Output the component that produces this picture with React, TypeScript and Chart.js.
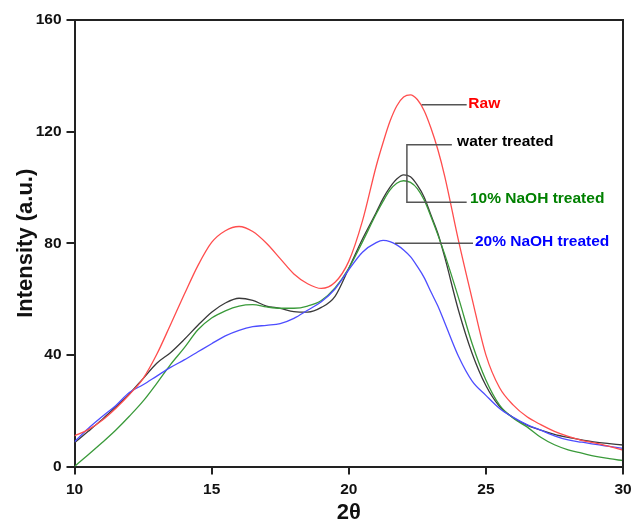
import React, { useEffect, useRef } from "react";
import { Chart, registerables } from "chart.js";

Chart.register(...registerables);

const angle = [10, 10.5, 11, 11.5, 12, 12.5, 13, 13.5, 14, 14.5, 15, 15.5, 16, 16.5, 17, 17.5, 18, 18.5, 19, 19.5, 20, 20.5, 21, 21.25, 21.5, 21.75, 22, 22.25, 22.5, 22.75, 23, 23.25, 23.5, 24, 24.5, 25, 25.5, 26, 26.5, 27, 27.5, 28, 28.5, 29, 29.5, 30];

const raw = [11, 13.2, 16.5, 20.8, 25.8, 31.5, 40.2, 50.8, 61.6, 72, 80.3, 84.5, 86, 84.2, 80, 74.5, 69, 65.5, 63.8, 66, 73.5, 88, 107.6, 116, 123.6, 129.2, 132.4, 133.2, 131.5, 127.5, 121.2, 113.5, 104, 81, 60, 40, 28.2, 22, 17.8, 15, 12.6, 10.8, 9.4, 8.4, 7.2, 5.9];

const water = [8.5, 12.6, 16.8, 21.3, 26, 31.5, 37, 40.8, 45.5, 50.6, 55.3, 58.6, 60.3, 59.5, 57.5, 56.7, 55.5, 55.3, 57, 61, 71, 81.5, 91, 96, 100, 103, 104.5, 103.8, 100.8, 96.5, 90, 83.5, 75, 56, 40.5, 29, 21.5, 17.5, 14.8, 13, 11.5, 10.4, 9.5, 8.7, 8.2, 7.7];

const naoh10 = [0, 4.2, 8.5, 13, 18, 23.4, 29.8, 36.5, 42.5, 49, 53.2, 55.8, 57.5, 58, 57.2, 56.7, 56.7, 57.5, 59.5, 64, 71, 80.5, 90.5, 95, 99, 101.5, 102.4, 101.8, 99.6, 95.5, 89.5, 83, 76, 60.5, 44, 31, 22, 17.3, 14.2, 10.5, 7.8, 6, 4.8, 3.6, 2.8, 2.1];

const naoh20 = [8.9, 13.6, 17.8, 21.8, 26.5, 29.3, 32.4, 35.5, 38.2, 41.1, 44, 46.8, 48.8, 50.1, 50.6, 51.2, 53.1, 56, 59, 63.6, 70.5, 76.8, 80.2, 81, 80.6, 79.4, 77.6, 75.2, 71.7, 67.7, 62.5, 57.5, 51.5, 39.5, 30.6, 25.5, 20.8, 17.6, 15, 13, 11, 9.5, 8.7, 7.9, 7.2, 6.5];

const xTicks = [10, 15, 20, 25, 30];
const yTicks = [0, 40, 80, 120, 160];

const seriesNames = ["Raw", "water treated", "10% NaOH treated", "20% NaOH treated"];

const FONT = "'Liberation Sans', Arial, sans-serif";

const toPoints = (ys: number[]) => angle.map((x, i) => ({ x, y: ys[i] }));

const annotationPlugin = {
  id: "labels",
  afterDraw(chart: any) {
    const { ctx, chartArea, scales } = chart;
    const xs = scales.x;
    const ys = scales.y;
    const X = (v: number) => xs.getPixelForValue(v);
    const Y = (v: number) => ys.getPixelForValue(v);
    ctx.save();
    // frame top and right
    ctx.strokeStyle = "#222";
    ctx.lineWidth = 2;
    ctx.beginPath();
    ctx.moveTo(chartArea.left, chartArea.top);
    ctx.lineTo(chartArea.right, chartArea.top);
    ctx.lineTo(chartArea.right, chartArea.bottom);
    ctx.stroke();

    ctx.strokeStyle = "#555";
    ctx.lineWidth = 1.5;
    const seg = (pts: number[][]) => {
      ctx.beginPath();
      pts.forEach((p, i) => {
        if (i === 0) ctx.moveTo(X(p[0]), Y(p[1]));
        else ctx.lineTo(X(p[0]), Y(p[1]));
      });
      ctx.stroke();
    };
    seg([[22.66, 129.6], [24.3, 129.6]]);
    seg([[23.76, 115.3], [22.12, 115.3], [22.12, 94.7], [24.3, 94.7]]);
    seg([[21.69, 80.0], [24.53, 80.0]]);

    ctx.font = `bold 15.5px ${FONT}`;
    ctx.textAlign = "left";
    ctx.textBaseline = "middle";
    const txt = (s: string, x: number, y: number, c: string) => {
      ctx.fillStyle = c;
      ctx.fillText(s, X(x), Y(y));
    };
    txt(seriesNames[0], 24.36, 130.0, "#ff0000");
    txt(seriesNames[1], 23.95, 116.5, "#000000");
    txt(seriesNames[2], 24.42, 95.8, "#008000");
    txt(seriesNames[3], 24.6, 80.4, "#0000ff");
    ctx.restore();
  },
};

export default function App() {
  const ref = useRef<HTMLCanvasElement>(null);
  useEffect(() => {
    if (!ref.current) return;
    const mk = (label: string, data: number[], color: string) => ({
      label,
      data: toPoints(data),
      borderColor: color,
      backgroundColor: color,
      borderWidth: 1.3,
      pointRadius: 0,
      cubicInterpolationMode: "monotone" as const,
      fill: false,
    });
    const chart = new Chart(ref.current, {
      type: "line",
      data: {
        datasets: [
          mk(seriesNames[0], raw, "#ff4d4d"),
          mk(seriesNames[3], naoh20, "#4d4dff"),
          mk(seriesNames[2], naoh10, "#3a9a3a"),
          mk(seriesNames[1], water, "#3a3a3a"),
        ],
      },
      options: {
        animation: false,
        responsive: false,
        maintainAspectRatio: false,
        layout: { padding: { top: 20, right: 17, left: 0, bottom: 0 } },
        plugins: { legend: { display: false }, tooltip: { enabled: false } },
        scales: {
          x: {
            type: "linear",
            min: 10,
            max: 30,
            afterBuildTicks: (s: any) => {
              s.ticks = xTicks.map((v) => ({ value: v }));
            },
            afterFit: (s: any) => {
              s.height = 57.5;
            },
            grid: { display: true, drawOnChartArea: false, drawTicks: true, tickLength: 8, color: "#222", lineWidth: 2 },
            border: { display: true, color: "#222", width: 2 },
            ticks: { color: "#111", padding: 6, maxRotation: 0, font: { family: FONT, size: 15.5, weight: "bold" } },
            title: { display: true, text: "2θ", color: "#111", padding: { top: 0, bottom: 0 }, font: { family: FONT, size: 22, weight: "bold", lineHeight: 1.05 } },
          },
          y: {
            type: "linear",
            min: 0,
            max: 160,
            afterBuildTicks: (s: any) => {
              s.ticks = yTicks.map((v) => ({ value: v }));
            },
            afterFit: (s: any) => {
              s.width = 74.5;
            },
            grid: { display: true, drawOnChartArea: false, drawTicks: true, tickLength: 8, color: "#222", lineWidth: 2 },
            border: { display: true, color: "#222", width: 2 },
            ticks: { color: "#111", padding: 5, font: { family: FONT, size: 15.5, weight: "bold" } },
            title: { display: true, text: "Intensity (a.u.)", color: "#111", padding: { top: 13, bottom: 0 }, font: { family: FONT, size: 22, weight: "bold" } },
          },
        },
      },
      plugins: [annotationPlugin],
    });
    return () => chart.destroy();
  }, []);
  return (
    <div style={{ position: "absolute", left: 0, top: 0, width: 640, height: 524, background: "#fff" }}>
      <canvas ref={ref} width={640} height={524} style={{ width: 640, height: 524, display: "block" }} />
    </div>
  );
}
